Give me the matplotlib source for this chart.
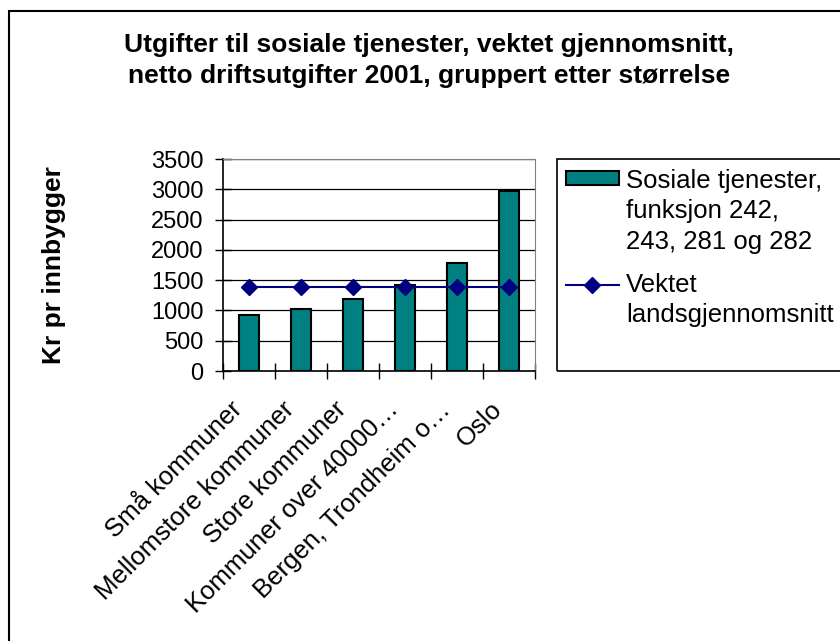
import matplotlib
matplotlib.use("Agg")
from matplotlib import pyplot as plt
from matplotlib.patches import Rectangle
from matplotlib.legend_handler import HandlerPatch, HandlerLine2D
from matplotlib.transforms import ScaledTranslation

plt.rcParams['font.family'] = ['Liberation Sans', 'DejaVu Sans']

categories = ["Små kommuner", "Mellomstore kommuner", "Store kommuner",
              "Kommuner over 40000…", "Bergen, Trondheim o…", "Oslo"]
utgifter = [925, 1020, 1190, 1420, 1785, 2975]
snitt = [1390, 1390, 1390, 1390, 1390, 1390]
yticks = [0, 500, 1000, 1500, 2000, 2500, 3000, 3500]


# legend handles sit on the first line of a multi-line label
class TopPatch(HandlerPatch):
    def __init__(self, shift, **kw):
        super().__init__(**kw)
        self.shift = shift

    def create_artists(self, legend, orig_handle, xdescent, ydescent, width, height, fontsize, trans):
        return super().create_artists(legend, orig_handle, xdescent, ydescent - self.shift * fontsize,
                                      width, height, fontsize, trans)


class TopLine(HandlerLine2D):
    def __init__(self, shift, **kw):
        super().__init__(**kw)
        self.shift = shift

    def create_artists(self, legend, orig_handle, xdescent, ydescent, width, height, fontsize, trans):
        return super().create_artists(legend, orig_handle, xdescent, ydescent - 2 * self.shift * fontsize,
                                      width, height, fontsize, trans)


W, H = 840, 641
fig = plt.figure(figsize=(8.4, 6.41), dpi=100)

# outer chart frame
fig.patches.append(Rectangle((9 / W, -0.05), 1.0, 1 - 11 / H + 0.05, transform=fig.transFigure,
                             fill=False, edgecolor="black", linewidth=1.5))

ax = fig.add_axes([223 / W, 1 - 371 / H, 312 / W, 212 / H])
x = list(range(len(categories)))
bars = ax.bar(x, utgifter, width=0.4, color="#008080", edgecolor="black", linewidth=1.5,
              label="Sosiale tjenester,\nfunksjon 242,\n243, 281 og 282", zorder=3)
line, = ax.plot(x, snitt, color="#000080", linewidth=1.5, marker="D", markersize=8,
                label="Vektet\nlandsgjennomsnitt", zorder=4)

ax.set_xlim(-0.5, len(categories) - 0.5)
ax.set_ylim(0, 3500)
ax.set_yticks(yticks)
ax.yaxis.grid(True, color="black", linewidth=0.9, zorder=0)
ax.tick_params(axis="y", direction="inout", length=12, width=1, labelsize=17, pad=8)
ax.set_xticks([i - 0.5 for i in range(len(categories) + 1)])
ax.set_xticklabels([])
ax.set_xticks(x, minor=True)
ax.set_xticklabels(categories, minor=True, rotation=45, ha="right", va="top",
                   rotation_mode="anchor", fontsize=18.5)
ax.tick_params(axis="x", which="major", direction="inout", length=11, width=1)
ax.tick_params(axis="x", which="minor", length=0, pad=19)
shift = ScaledTranslation(-0.19, 0, fig.dpi_scale_trans)
for lab in ax.get_xticklabels(minor=True):
    lab.set_transform(lab.get_transform() + shift)
for side in ["top", "right"]:
    ax.spines[side].set_color("#808080")
ax.spines["left"].set_linewidth(1.2)
ax.spines["bottom"].set_linewidth(1.2)

ax.set_ylabel("Kr pr innbygger", fontsize=19, fontweight="bold")
ax.yaxis.set_label_coords((66 - 223) / 312, 0.5)

fig.text(429 / W, 1 - 45 / H, "Utgifter til sosiale tjenester, vektet gjennomsnitt,",
         ha="center", va="center", fontsize=19, fontweight="bold")
fig.text(429 / W, 1 - 76 / H, "netto driftsutgifter 2001, gruppert etter størrelse",
         ha="center", va="center", fontsize=19, fontweight="bold")

# legend box
fig.patches.append(Rectangle((557 / W, 1 - 371 / H), 0.5, 212 / H, transform=fig.transFigure,
                             fill=False, edgecolor="black", linewidth=1.2))
bar_handle = bars.patches[0]
leg = fig.legend([bar_handle, line], [bars.get_label(), line.get_label()],
                 handler_map={bar_handle: TopPatch(1.3), line: TopLine(0.65)},
                 loc="upper left", bbox_to_anchor=(566 / W, 1 - 169 / H), frameon=False,
                 fontsize=18.5, handlelength=2.05, handleheight=0.45, handletextpad=0.3,
                 labelspacing=0.75, borderaxespad=0, borderpad=0)
for t in leg.get_texts():
    t.set_linespacing(1.33)

fig.savefig("out.png", dpi=100)
